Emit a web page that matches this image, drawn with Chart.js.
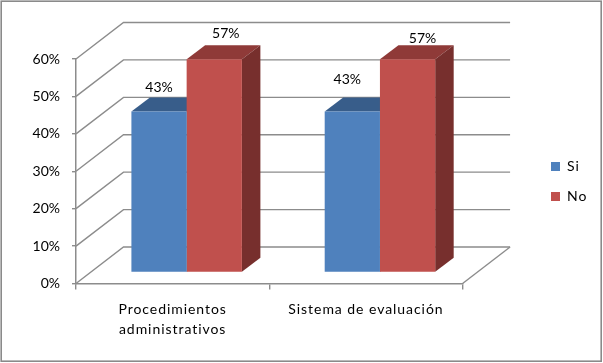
<!DOCTYPE html>
<html><head><meta charset="utf-8">
<style>html,body{margin:0;padding:0;background:#fff}canvas{display:block}</style>
<script src="https://cdn.jsdelivr.net/npm/chart.js@4"></script>
</head><body>
<canvas id="c" width="603" height="363"></canvas>
<script>
const categories = [["Procedimientos","administrativos"],"Sistema de evaluación"];
const siValues = [43,43];
const noValues = [57,57];
const seriesNames = ["Si","No"];

const FONT = 'Lato, "Open Sans", sans-serif';
const LINE = '#8c8c8c';
const wall = {dx:47.5, dy:-36.5};
const barShift = {dx:14, dy:-11};
const barDepth = {dx:18.5, dy:-14};
const faces = [
  {top:'#385d8a', side:'#2f4f76'},
  {top:'#8f3a38', side:'#772f2d'}
];
const labelNudge = [
  [[0,-24],[-5,-32]],
  [[11.5,-26],[15,-21]]
];

function spaced(obj, method, spacing){
  const original = obj[method];
  obj[method] = function(...args){
    const c = this.ctx, prev = c.letterSpacing;
    c.letterSpacing = spacing;
    original.apply(this,args);
    c.letterSpacing = prev;
  };
}

const scene = {
  id:'scene',
  beforeDraw(chart){
    const c = chart.ctx;
    c.save();
    c.fillStyle='#fff'; c.fillRect(0,0,chart.width,chart.height);
    c.strokeStyle='#8a8a8a'; c.lineWidth=1.6;
    c.strokeRect(1.2,1.2,600,360);
    c.restore();
  },
  beforeDatasetsDraw(chart){
    const c = chart.ctx, y = chart.scales.y, a = chart.chartArea;
    c.save();
    c.strokeStyle = LINE; c.lineWidth = 1.4;
    y.ticks.forEach(t=>{
      const py = y.getPixelForValue(t.value);
      c.beginPath();
      c.moveTo(a.left,py);
      c.lineTo(a.left+wall.dx,py+wall.dy);
      c.lineTo(a.right+wall.dx,py+wall.dy);
      c.stroke();
    });
    const py0 = y.getPixelForValue(0);
    c.beginPath();
    c.moveTo(a.right,py0);
    c.lineTo(a.right+wall.dx,py0+wall.dy);
    c.stroke();
    c.translate(barShift.dx,barShift.dy);
    [0,1].forEach(i=>{
      chart.getDatasetMeta(i).data.forEach(b=>{
        const p = b.getProps(['x','y','base','width'],true);
        const l=p.x-p.width/2, r=p.x+p.width/2;
        c.fillStyle = faces[i].top;
        c.beginPath();
        c.moveTo(l,p.y); c.lineTo(l+barDepth.dx,p.y+barDepth.dy);
        c.lineTo(r+barDepth.dx,p.y+barDepth.dy); c.lineTo(r,p.y);
        c.closePath(); c.fill();
        c.fillStyle = faces[i].side;
        c.beginPath();
        c.moveTo(r,p.y); c.lineTo(r+barDepth.dx,p.y+barDepth.dy);
        c.lineTo(r+barDepth.dx,p.base+barDepth.dy); c.lineTo(r,p.base);
        c.closePath(); c.fill();
      });
    });
  },
  afterDatasetsDraw(chart){
    const c = chart.ctx;
    c.restore();
    c.save();
    c.fillStyle='#000'; c.font='14px '+FONT;
    c.textAlign='center'; c.textBaseline='middle';
    [0,1].forEach(i=>{
      const ds = chart.data.datasets[i];
      chart.getDatasetMeta(i).data.forEach((b,j)=>{
        const p = b.getProps(['x','y'],true);
        c.fillText(ds.data[j]+'%',
          p.x+barShift.dx+labelNudge[i][j][0],
          p.y+barShift.dy+labelNudge[i][j][1]);
      });
    });
    c.restore();
  },
  afterLayout(chart){
    const lg = chart.legend;
    lg.left = 551-16;
    lg.right = chart.width;
    lg.width = lg.right-lg.left;
    lg.top = 0;
    lg.bottom = chart.height;
    lg.height = chart.height;
    if(!chart.$spaced){
      chart.$spaced = true;
      spaced(chart.scales.x,'drawLabels','0.95px');
      spaced(lg,'draw','1px');
    }
  }
};

new Chart(document.getElementById('c'),{
  type:'bar',
  data:{
    labels:categories,
    datasets:[
      {label:seriesNames[0],data:siValues,backgroundColor:'#4f81bd',categoryPercentage:0.5716,barPercentage:1,clip:false},
      {label:seriesNames[1],data:noValues,backgroundColor:'#c0504d',categoryPercentage:0.5716,barPercentage:1,clip:false}
    ]
  },
  plugins:[scene],
  options:{
    responsive:false,
    animation:false,
    devicePixelRatio:1,
    layout:{padding:{top:59,left:0,right:80,bottom:0}},
    plugins:{
      tooltip:{enabled:false},
      title:{display:false},
      legend:{
        position:'right',
        align:'center',
        labels:{boxWidth:9,boxHeight:9,padding:16,color:'#000',font:{family:FONT,size:14}}
      }
    },
    scales:{
      x:{
        afterFit(s){s.height=79.5;},
        border:{color:LINE,width:1.5},
        grid:{drawOnChartArea:false,drawTicks:true,tickLength:6,color:LINE,lineWidth:1.4},
        ticks:{color:'#000',maxRotation:0,autoSkip:false,padding:10,font:{family:FONT,size:14,lineHeight:20/14}}
      },
      y:{
        min:0,max:60,
        afterFit(s){s.width=76;},
        border:{color:LINE,width:1.5},
        grid:{drawOnChartArea:false,drawTicks:true,tickLength:4,color:LINE,lineWidth:1.4},
        ticks:{stepSize:10,color:'#000',padding:12,font:{family:FONT,size:14},callback:v=>v+'%'}
      }
    }
  }
});
</script>
</body></html>
